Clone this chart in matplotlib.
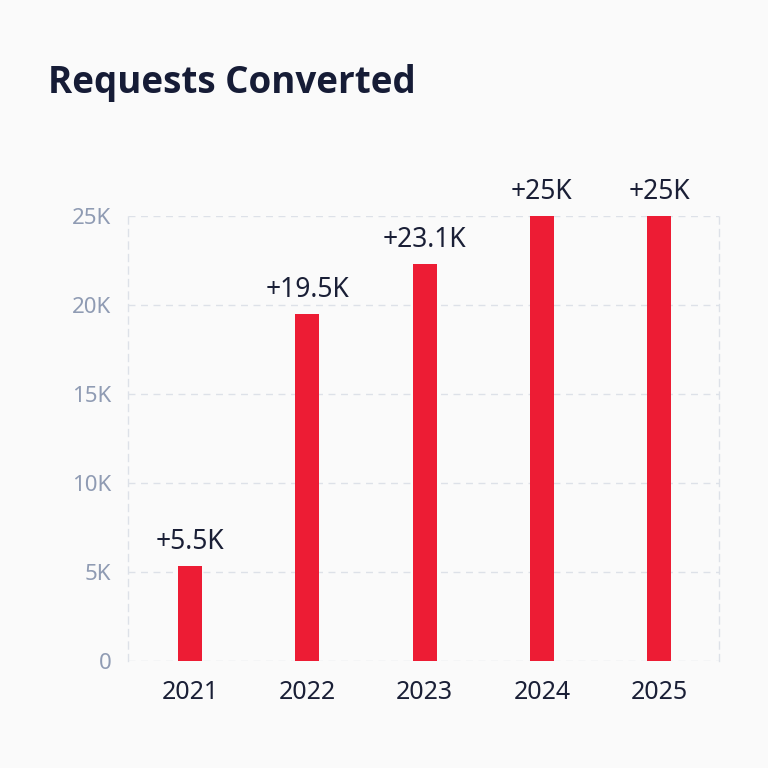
import matplotlib
matplotlib.use("Agg")
import matplotlib.pyplot as plt

years = ["2021", "2022", "2023", "2024", "2025"]
values = [5.35, 19.5, 22.3, 25.0, 25.0]
labels = ["+5.5K", "+19.5K", "+23.1K", "+25K", "+25K"]
yticks = [0, 5, 10, 15, 20, 25]
ytick_labels = ["0", "5K", "10K", "15K", "20K", "25K"]

bg = "#fafafa"
plt.rcParams['font.family'] = ['Noto Sans', 'DejaVu Sans']

fig = plt.figure(figsize=(7.68, 7.68), dpi=100, facecolor=bg)
ax = fig.add_axes([128/768, 107/768, 591/768, 445/768])
ax.set_facecolor(bg)

x = list(range(len(years)))
ax.bar(x, values, width=0.205, color="#ed1c34", zorder=3)
for xi, v, lab in zip(x, values, labels):
    ax.annotate(lab, (xi, v), xytext=(0, 12), textcoords="offset points",
                ha="center", va="baseline", fontsize=19, color="#1a1f36")

ax.set_xlim(-0.53, 4.51)
ax.set_ylim(0, 25)
ax.set_xticks(x)
ax.set_xticklabels(years, fontsize=18, color="#1a1f36")
ax.set_yticks(yticks)
ax.set_yticklabels(ytick_labels, fontsize=16, color="#8f9bb3")
ax.tick_params(axis="both", length=0)
ax.tick_params(axis="x", pad=14)
ax.tick_params(axis="y", pad=12)
ax.grid(axis="y", color="#dde1e8", linestyle=(0, (5, 4)), linewidth=1, zorder=0)
for side in ["top", "bottom"]:
    ax.spines[side].set_visible(False)
for side in ["left", "right"]:
    ax.spines[side].set_color("#dde1e8")
    ax.spines[side].set_linestyle((0, (5, 4)))
    ax.spines[side].set_linewidth(1)

fig.text(48/768, 1 - 83/768, "Requests Converted", fontsize=26.5, fontweight="bold",
         family=["Open Sans", "DejaVu Sans"],
         color="#161c36", va="center", ha="left")

fig.savefig("out.png", dpi=100, facecolor=bg)
